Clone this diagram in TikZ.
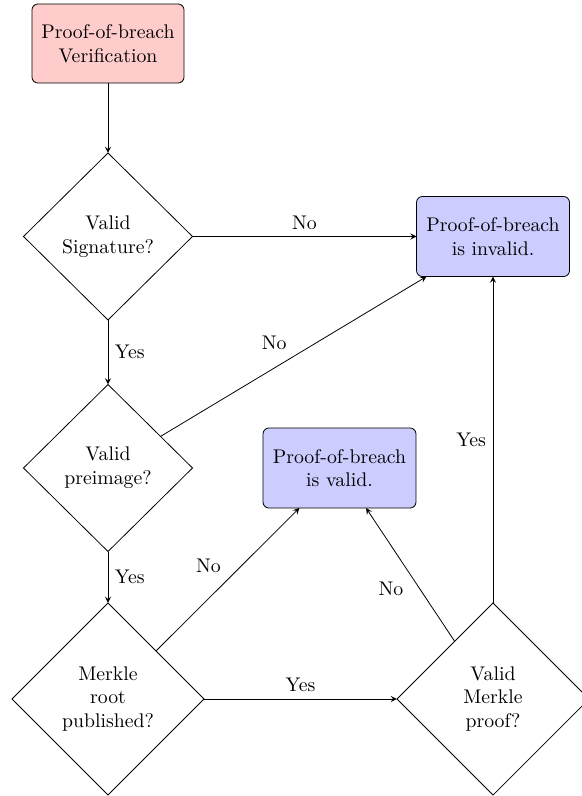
\documentclass[tikz,border=0pt]{standalone}
\usetikzlibrary{shapes.geometric,arrows}

\tikzset{
  startbox/.style={draw, rounded corners=3pt, fill=red!20, align=center,
    minimum width=76.9pt, minimum height=40pt, inner sep=2pt, outer sep=0pt},
  endbox/.style={draw, rounded corners=3pt, fill=blue!20, align=center,
    minimum width=77.4pt, minimum height=40.5pt, inner sep=2pt, outer sep=0pt},
  decision/.style={draw, diamond, align=center, inner sep=0pt, outer sep=0pt,
    minimum width=85.5pt, minimum height=84.5pt},
  bigdecision/.style={decision, minimum width=97.2pt, minimum height=97.2pt},
  flow/.style={draw, -stealth, line width=0.4pt},
  lbl/.style={font=\normalsize}
}

\begin{document}
\begin{tikzpicture}[x=0.506pt, y=-0.506pt]
  \useasboundingbox (0,0) rectangle (582,796);

  % process nodes
  \node[startbox] (start) at (108,43.5) {Proof-of-breach\\Verification};
  \node[decision] (sig) at (108,236.5) {Valid\\Signature?};
  \node[decision] (pre) at (108,468) {Valid\\preimage?};
  \node[bigdecision] (root) at (108,699) {Merkle\\root\\published?};
  \node[bigdecision] (proof) at (493,699) {Valid\\Merkle\\proof?};

  % outcomes
  \node[endbox] (invalid) at (493,236.5) {Proof-of-breach\\is invalid.};
  \node[endbox] (valid) at (339.5,468) {Proof-of-breach\\is valid.};

  % connectors
  \draw[flow] (start) -- (sig);
  \draw[flow] (sig) -- node[above, lbl] {No} (invalid);
  \draw[flow] (sig) -- node[right, lbl] {Yes} (pre);
  \draw[flow] (pre) -- node[above left, lbl] {No} (invalid);
  \draw[flow] (pre) -- node[right, lbl] {Yes} (root);
  \draw[flow] (root.north east) -- node[above left, lbl] {No} (valid);
  \draw[flow] (root) -- node[above, lbl] {Yes} (proof);
  \draw[flow] (proof) -- node[below left, lbl] {No} (valid);
  \draw[flow] (proof) -- node[left, lbl] {Yes} (invalid);
\end{tikzpicture}
\end{document}
